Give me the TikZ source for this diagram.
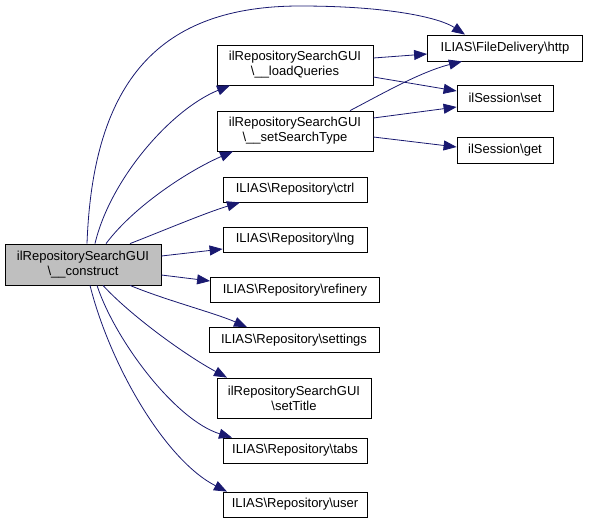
\documentclass[tikz,border=0pt]{standalone}
\usepackage{fontspec}
\setmainfont{Liberation Sans}
\usetikzlibrary{arrows.meta}
\definecolor{edgeblue}{HTML}{191970}
\tikzset{
  fn/.style={draw, rectangle, fill=white, line width=0.8pt, inner sep=2pt, align=center,
    font=\fontsize{13}{15}\selectfont, minimum height=25pt},
  cur/.style={fn, fill=black!25},
  call/.style={draw=edgeblue, line width=0.8pt, -{Triangle[length=13pt,width=10pt]}, fill=none}
}
\begin{document}
\begin{tikzpicture}[x=1pt,y=-1pt]
	\useasboundingbox (0,0) rectangle (589,528);
	% Caller
	\node[cur, minimum width=156pt, minimum height=41pt] (R) at (83,264.5) {ilRepositorySearchGUI\\\textbackslash\_\_construct};
	
	% Direct callees
	\node[fn, minimum width=156pt, minimum height=40pt] (LQ) at (295,65) {ilRepositorySearchGUI\\\textbackslash\_\_loadQueries};
	\node[fn, minimum width=156pt, minimum height=40pt] (SST) at (295,131) {ilRepositorySearchGUI\\\textbackslash\_\_setSearchType};
	\node[fn, minimum width=144pt] (CT) at (295,189.5) {ILIAS\textbackslash Repository\textbackslash ctrl};
	\node[fn, minimum width=144pt] (LN) at (295,239.5) {ILIAS\textbackslash Repository\textbackslash lng};
	\node[fn, minimum width=169pt] (RF) at (295,290) {ILIAS\textbackslash Repository\textbackslash refinery};
	\node[fn, minimum width=170pt] (ST) at (294,340) {ILIAS\textbackslash Repository\textbackslash settings};
	\node[fn, minimum width=154pt, minimum height=40pt] (TI) at (294,398) {ilRepositorySearchGUI\\\textbackslash setTitle};
	\node[fn, minimum width=144pt] (TB) at (295,450.5) {ILIAS\textbackslash Repository\textbackslash tabs};
	\node[fn, minimum width=144pt] (US) at (295,504.5) {ILIAS\textbackslash Repository\textbackslash user};
	
	% Second level
	\node[fn, minimum width=155pt, minimum height=26pt] (HT) at (505,48) {ILIAS\textbackslash FileDelivery\textbackslash http};
	\node[fn, minimum width=96pt, minimum height=26pt] (SE) at (505,98) {ilSession\textbackslash set};
	\node[fn, minimum width=96pt, minimum height=26pt] (GE) at (505,150) {ilSession\textbackslash get};
	
	% Calls from the constructor
	\draw[call] (R.north -| 87,0) .. controls (93,80) and (160,6) .. (300,6) .. controls (390,6) and (440,18) .. (HT.north -| 465,0);
	\draw[call] (R.north -| 95,0) .. controls (110,180) and (170,110) .. (LQ.south -| 230,0);
	\draw[call] (R.north -| 106,0) .. controls (135,205) and (190,170) .. (SST.south -| 233,0);
	\draw[call] (R.north -| 130,0) .. controls (165,230) and (205,213) .. (CT.south -| 240,0);
	\draw[call] (R.east |- 0,256) -- (LN.west |- 0,249);
	\draw[call] (R.east |- 0,275) -- (RF.west |- 0,281);
	\draw[call] (R.south -| 130,0) .. controls (165,300) and (215,313) .. (ST.north -| 247,0);
	\draw[call] (R.south -| 103,0) .. controls (130,315) and (185,355) .. (TI.north -| 227,0);
	\draw[call] (R.south -| 97,0) .. controls (115,340) and (175,420) .. (TB.north -| 232,0);
	\draw[call] (R.south -| 90,0) .. controls (110,365) and (165,460) .. (US.north -| 227,0);
	
	% Calls from the private helpers
	\draw[call] (LQ.east |- 0,58) -- (HT.west |- 0,54);
	\draw[call] (LQ.east |- 0,77) -- (SE.west |- 0,91);
	\draw[call] (SST.north -| 350,0) .. controls (380,95) and (420,72) .. (HT.south -| 462,0);
	\draw[call] (SST.east |- 0,118) -- (SE.west |- 0,107);
	\draw[call] (SST.east |- 0,137) -- (GE.west |- 0,147);
\end{tikzpicture}
\end{document}
